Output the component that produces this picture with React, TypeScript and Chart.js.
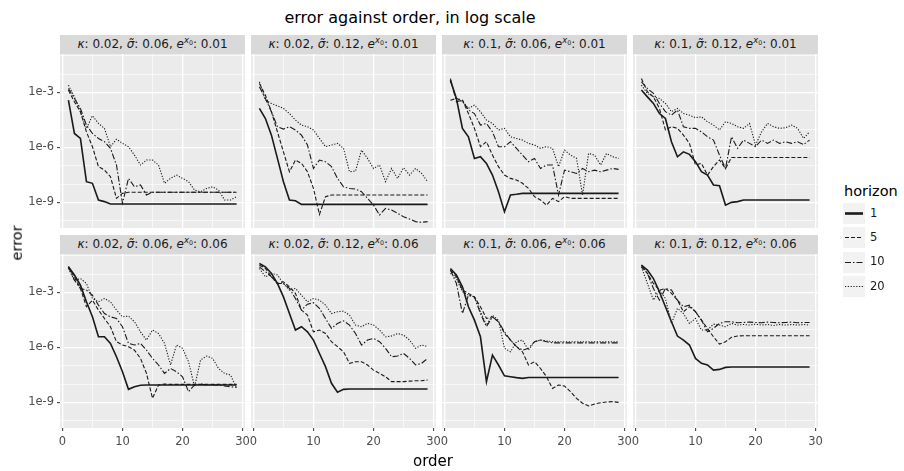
import React, { useEffect, useRef } from "react";
import { Chart, registerables } from "chart.js";

Chart.register(...registerables);

// ---------- data ----------
const ORDERS = [1, 2, 3, 4, 5, 6, 7, 8, 9, 10, 11, 12, 13, 14, 15, 16, 17, 18, 19, 20, 21, 22, 23, 24, 25, 26, 27, 28, 29];
const HORIZONS = ["1", "5", "10", "20"];
const KAPPAS = ["0.02", "0.02", "0.1", "0.1"];
const SIGMAS = ["0.06", "0.12", "0.06", "0.12"];
const EX0S = ["0.01", "0.06"];
const X_TICKS = [0, 10, 20, 30];
const X_MINOR = [5, 15, 25];
const Y_TICK_LABELS = ["1e-3", "1e-6", "1e-9"];
const Y_TICK_EXPONENTS = [-3, -6, -9];
const Y_MINOR_EXPONENTS = [-10, -8, -7, -5, -4, -2, -1];

// log10(error) per panel (row r, column c) and horizon h
const R1C1_H1 = [-3.42, -5.24, -5.51, -7.87, -7.96, -8.87, -8.96, -9.09, -9.09, -9.09,
  -9.09, -9.09, -9.09, -9.09, -9.09, -9.09, -9.09, -9.09, -9.09, -9.09,
  -9.09, -9.09, -9.09, -9.09, -9.09, -9.09, -9.09, -9.09, -9.09];
const R1C1_H5 = [-2.87, -3.51, -4.05, -5.15, -5.96, -7.05, -7.24, -7.60, -8.78, -8.51,
  -8.45, -8.45, -8.45, -8.45, -8.45, -8.45, -8.45, -8.45, -8.45, -8.45,
  -8.45, -8.45, -8.45, -8.45, -8.45, -8.45, -8.45, -8.45, -8.45];
const R1C1_H10 = [-2.78, -3.33, -3.87, -4.78, -5.24, -5.51, -5.69, -6.05, -6.96, -9.05,
  -7.69, -8.15, -8.05, -8.60, -8.45, -8.45, -8.45, -8.45, -8.45, -8.45,
  -8.45, -8.45, -8.45, -8.45, -8.45, -8.45, -8.45, -8.45, -8.45];
const R1C1_H20 = [-2.60, -3.24, -4.05, -4.96, -4.27, -4.69, -4.96, -5.96, -5.55, -5.78,
  -5.96, -6.42, -6.96, -6.69, -6.69, -6.96, -7.96, -7.69, -7.51, -7.69,
  -7.87, -8.33, -8.42, -8.24, -8.15, -8.33, -8.87, -8.87, -8.69];

const R1C2_H1 = [-3.87, -4.42, -5.33, -6.60, -7.87, -8.87, -8.91, -9.11, -9.11, -9.11,
  -9.11, -9.11, -9.11, -9.11, -9.11, -9.11, -9.11, -9.11, -9.11, -9.11,
  -9.11, -9.11, -9.11, -9.11, -9.11, -9.11, -9.11, -9.11, -9.11];
const R1C2_H5 = [-2.51, -3.15, -4.05, -5.15, -6.24, -7.33, -6.69, -6.87, -7.33, -8.24,
  -9.66, -8.69, -8.60, -8.60, -8.60, -8.60, -8.60, -8.60, -8.60, -8.60,
  -8.60, -8.60, -8.60, -8.60, -8.60, -8.60, -8.60, -8.60, -8.60];
const R1C2_H10 = [-2.69, -3.33, -4.05, -4.87, -5.00, -4.87, -5.05, -5.33, -5.87, -7.15,
  -6.69, -6.78, -7.05, -7.69, -8.15, -8.24, -8.27, -8.42, -8.78, -9.15,
  -9.69, -9.33, -9.42, -9.60, -9.78, -9.91, -10.05, -10.09, -10.05];
const R1C2_H20 = [-2.42, -3.42, -3.60, -3.73, -3.87, -4.15, -4.51, -4.78, -4.87, -5.05,
  -5.51, -5.96, -5.87, -5.78, -6.05, -7.33, -7.29, -6.15, -6.60, -7.15,
  -6.96, -7.87, -7.15, -7.69, -7.11, -7.51, -7.15, -7.42, -7.87];

const R1C3_H1 = [-2.33, -3.33, -4.96, -5.42, -6.60, -6.51, -6.87, -7.51, -8.42, -9.51,
  -8.60, -8.56, -8.51, -8.51, -8.51, -8.51, -8.51, -8.51, -8.51, -8.51,
  -8.51, -8.51, -8.51, -8.51, -8.51, -8.51, -8.51, -8.51, -8.51];
const R1C3_H5 = [-3.42, -3.33, -3.42, -4.15, -4.96, -5.96, -5.69, -6.42, -7.05, -7.51,
  -7.69, -7.78, -7.96, -8.24, -8.69, -8.87, -9.15, -8.78, -8.96, -8.69,
  -8.78, -8.78, -8.78, -8.78, -8.78, -8.78, -8.78, -8.78, -8.78];
const R1C3_H10 = [-2.24, -3.51, -3.42, -3.96, -4.15, -4.78, -4.69, -5.15, -5.96, -5.96,
  -5.69, -6.05, -6.42, -6.78, -6.60, -7.15, -6.96, -6.96, -8.60, -7.24,
  -7.33, -7.42, -7.15, -7.33, -7.24, -7.33, -7.24, -7.15, -7.20];
const R1C3_H20 = [-2.42, -3.33, -3.51, -3.87, -3.69, -4.05, -4.51, -4.69, -5.05, -4.96,
  -5.42, -5.51, -5.60, -5.78, -5.87, -6.05, -5.96, -6.05, -7.05, -6.15,
  -6.42, -6.60, -8.60, -6.33, -6.42, -6.96, -6.33, -6.51, -6.60];

const R1C4_H1 = [-2.87, -3.24, -3.60, -4.15, -4.42, -5.69, -6.51, -6.24, -6.38, -6.78,
  -7.33, -7.51, -8.05, -8.09, -9.15, -9.00, -8.96, -8.87, -8.87, -8.87,
  -8.87, -8.87, -8.87, -8.87, -8.87, -8.87, -8.87, -8.87, -8.87];
const R1C4_H5 = [-2.24, -2.96, -3.24, -3.87, -5.05, -4.87, -4.96, -5.33, -5.78, -6.96,
  -6.87, -7.51, -7.05, -6.69, -7.15, -6.55, -6.55, -6.55, -6.55, -6.55,
  -6.55, -6.55, -6.55, -6.55, -6.55, -6.55, -6.55, -6.55, -6.55];
const R1C4_H10 = [-2.42, -2.78, -3.05, -3.60, -4.05, -4.24, -3.96, -4.87, -4.96, -4.96,
  -5.15, -5.42, -5.60, -6.42, -7.15, -5.42, -6.05, -5.60, -5.78, -5.96,
  -5.60, -5.78, -5.60, -5.78, -5.69, -5.78, -5.69, -5.84, -5.60];
const R1C4_H20 = [-2.60, -3.05, -3.24, -3.33, -3.60, -4.05, -3.87, -4.15, -4.24, -4.38,
  -4.33, -4.60, -4.78, -5.05, -4.60, -4.69, -4.87, -4.96, -4.69, -5.87,
  -5.15, -4.69, -4.87, -4.96, -4.93, -4.78, -4.96, -5.51, -5.15];

const R2C1_H1 = [-1.60, -2.05, -2.60, -3.51, -4.33, -5.42, -5.42, -5.78, -6.51, -7.33,
  -8.29, -8.15, -8.07, -8.05, -8.05, -8.05, -8.05, -8.05, -8.05, -8.05,
  -8.05, -8.05, -8.05, -8.05, -8.05, -8.05, -8.05, -8.05, -8.05];
const R2C1_H5 = [-1.60, -2.15, -2.78, -3.78, -3.42, -3.96, -4.42, -4.87, -5.69, -5.87,
  -5.96, -6.15, -6.60, -7.42, -8.78, -8.05, -8.00, -8.02, -8.02, -8.02,
  -8.02, -8.02, -8.02, -8.02, -8.02, -8.02, -8.02, -8.02, -8.02];
const R2C1_H10 = [-1.60, -2.33, -2.78, -2.87, -3.15, -3.69, -4.15, -4.33, -4.42, -4.87,
  -5.78, -5.87, -5.78, -6.15, -6.60, -6.96, -7.42, -7.15, -7.33, -7.60,
  -8.42, -8.05, -8.00, -8.05, -8.05, -8.05, -8.11, -8.15, -8.18];
const R2C1_H20 = [-1.69, -2.33, -2.24, -2.51, -3.33, -3.51, -3.33, -3.51, -3.96, -4.33,
  -4.29, -4.60, -5.15, -5.60, -5.05, -5.24, -5.78, -6.96, -5.87, -6.05,
  -6.78, -8.15, -6.69, -6.47, -6.60, -7.15, -7.42, -7.51, -8.24];

const R2C2_H1 = [-1.42, -1.60, -1.96, -2.51, -3.24, -4.15, -5.05, -4.87, -5.15, -5.60,
  -6.33, -7.05, -7.96, -8.45, -8.29, -8.27, -8.27, -8.27, -8.27, -8.27,
  -8.27, -8.27, -8.27, -8.27, -8.27, -8.27, -8.27, -8.27, -8.27];
const R2C2_H5 = [-1.51, -1.69, -2.15, -2.51, -2.42, -2.69, -3.05, -3.96, -4.24, -5.15,
  -5.05, -5.24, -5.69, -5.96, -6.24, -6.87, -6.78, -6.78, -6.96, -7.24,
  -7.42, -7.60, -7.87, -7.87, -7.87, -7.84, -7.82, -7.82, -7.78];
const R2C2_H10 = [-1.60, -1.87, -2.15, -2.51, -2.51, -2.78, -3.33, -3.96, -3.64, -3.56,
  -3.87, -4.42, -4.96, -4.69, -4.55, -4.78, -5.24, -5.87, -5.60, -5.51,
  -5.69, -6.05, -6.51, -6.47, -6.33, -6.60, -6.96, -6.87, -6.60];
const R2C2_H20 = [-1.69, -2.15, -1.96, -2.05, -2.51, -2.87, -2.78, -3.15, -3.51, -3.33,
  -3.42, -3.69, -4.15, -4.05, -4.02, -4.24, -4.78, -4.87, -4.69, -4.78,
  -5.05, -5.42, -5.38, -5.24, -5.33, -5.60, -6.05, -5.87, -5.96];

const R2C3_H1 = [-1.69, -2.05, -2.69, -3.78, -4.51, -5.42, -7.87, -6.42, -6.96, -7.55,
  -7.60, -7.65, -7.69, -7.64, -7.64, -7.64, -7.64, -7.64, -7.64, -7.64,
  -7.64, -7.64, -7.64, -7.64, -7.64, -7.64, -7.64, -7.64, -7.64];
const R2C3_H5 = [-1.78, -2.15, -2.87, -3.05, -3.24, -3.78, -4.42, -4.33, -4.60, -5.24,
  -5.60, -5.96, -6.24, -6.96, -6.78, -7.15, -7.60, -8.24, -8.05, -8.11,
  -8.42, -8.78, -9.05, -9.20, -9.09, -9.02, -8.98, -8.96, -9.00];
const R2C3_H10 = [-1.78, -2.51, -4.15, -3.15, -3.24, -4.15, -4.87, -4.33, -4.60, -5.15,
  -5.60, -5.96, -6.15, -6.05, -5.69, -5.60, -5.69, -5.75, -5.75, -5.75,
  -5.75, -5.75, -5.75, -5.75, -5.75, -5.75, -5.75, -5.75, -5.75];
const R2C3_H20 = [-1.96, -2.24, -2.96, -3.15, -3.24, -4.05, -4.78, -4.24, -4.51, -6.05,
  -6.24, -5.69, -5.60, -6.15, -5.69, -5.60, -5.65, -5.69, -5.69, -5.69,
  -5.69, -5.69, -5.69, -5.69, -5.69, -5.69, -5.69, -5.69, -5.69];

const R2C4_H1 = [-1.51, -1.78, -2.24, -2.96, -3.78, -4.60, -5.38, -5.60, -5.87, -6.60,
  -6.87, -6.96, -7.24, -7.20, -7.09, -7.07, -7.07, -7.07, -7.07, -7.07,
  -7.07, -7.07, -7.07, -7.07, -7.07, -7.07, -7.07, -7.07, -7.07];
const R2C4_H5 = [-1.60, -1.96, -2.51, -2.87, -2.78, -3.05, -3.42, -4.05, -3.78, -4.05,
  -4.51, -4.96, -5.42, -5.82, -5.69, -5.45, -5.38, -5.36, -5.36, -5.36,
  -5.36, -5.36, -5.36, -5.36, -5.36, -5.36, -5.36, -5.36, -5.36];
const R2C4_H10 = [-1.51, -1.96, -2.78, -3.42, -2.78, -2.87, -3.42, -3.78, -3.69, -4.05,
  -4.51, -5.15, -4.96, -4.69, -4.60, -4.60, -4.65, -4.64, -4.62, -4.64,
  -4.65, -4.62, -4.64, -4.65, -4.64, -4.62, -4.65, -4.64, -4.64];
const R2C4_H20 = [-1.60, -2.51, -3.42, -2.87, -3.33, -4.69, -3.87, -4.15, -4.69, -4.42,
  -5.05, -5.05, -4.73, -4.78, -4.87, -4.69, -4.78, -4.75, -4.78, -4.73,
  -4.78, -4.75, -4.80, -4.75, -4.78, -4.75, -4.78, -4.75, -4.78];

const PANEL_SERIES = [
  [
    [R1C1_H1, R1C1_H5, R1C1_H10, R1C1_H20],
    [R1C2_H1, R1C2_H5, R1C2_H10, R1C2_H20],
    [R1C3_H1, R1C3_H5, R1C3_H10, R1C3_H20],
    [R1C4_H1, R1C4_H5, R1C4_H10, R1C4_H20],
  ],
  [
    [R2C1_H1, R2C1_H5, R2C1_H10, R2C1_H20],
    [R2C2_H1, R2C2_H5, R2C2_H10, R2C2_H20],
    [R2C3_H1, R2C3_H5, R2C3_H10, R2C3_H20],
    [R2C4_H1, R2C4_H5, R2C4_H10, R2C4_H20],
  ],
];

// ---------- layout & style ----------
const FONT = "'DejaVu Sans', 'Liberation Sans', sans-serif";
const COL_LEFT = [60, 251, 442, 633];
const ROW_TOP = [54, 254];
const PANEL_W = 185;
const PANEL_H = 174;
const STRIP_H = 19;
const Y_AXIS_W = 60;
const X_AXIS_H = 24;
const EXT_L = 8;
const EXT_R = 10;
const Y_MIN = Math.pow(10, -10.4);
const Y_MAX = Math.pow(10, -0.9);
const X_MIN = -0.4;
const X_MAX = 30.4;
const LINE_COLOR = "#1a1a1a";
const DASHES = [[], [4, 2], [6, 2, 1.5, 2], [1.2, 1.6]];
const WIDTHS = [1.6, 1.1, 1.1, 1.1];
const TICK_FONT = 11.5;

const bgPlugin = {
  id: "panelBg",
  beforeDraw(chart: any) {
    const { ctx, chartArea } = chart;
    if (!chartArea) return;
    ctx.save();
    ctx.fillStyle = "#ebebeb";
    ctx.fillRect(chartArea.left, chartArea.top, chartArea.right - chartArea.left, chartArea.bottom - chartArea.top);
    ctx.restore();
  },
};

function expOf(v: number) {
  return Math.round(Math.log10(v));
}

function Panel({ row, col }: { row: number; col: number }) {
  const ref = useRef<HTMLCanvasElement | null>(null);
  const showY = col === 0;
  const showX = row === 1;
  const extL = showY ? Y_AXIS_W : EXT_L;
  const w = PANEL_W + extL + EXT_R;
  const h = PANEL_H + (showX ? X_AXIS_H : 0);
  useEffect(() => {
    const series = PANEL_SERIES[row][col];
    const chart = new Chart(ref.current as HTMLCanvasElement, {
      type: "line",
      data: {
        datasets: series.map((s, i) => ({
          label: HORIZONS[i],
          data: ORDERS.map((x, j) => ({ x, y: Math.pow(10, s[j]) })),
          borderColor: LINE_COLOR,
          borderWidth: WIDTHS[i],
          borderDash: DASHES[i],
          pointRadius: 0,
          fill: false,
          tension: 0,
        })),
      },
      options: {
        animation: false,
        responsive: false,
        maintainAspectRatio: false,
        events: [],
        layout: {
          padding: { left: showY ? 0 : EXT_L, right: EXT_R, top: 0, bottom: 0 },
          autoPadding: false,
        } as any,
        plugins: { legend: { display: false }, tooltip: { enabled: false }, title: { display: false } },
        scales: {
          x: {
            type: "linear",
            min: X_MIN,
            max: X_MAX,
            bounds: "data",
            afterBuildTicks: (s: any) => {
              s.ticks = [...X_TICKS, ...X_MINOR].sort((a, b) => a - b).map((v) => ({ value: v }));
            },
            afterFit: (s: any) => {
              s.height = showX ? X_AXIS_H : 0;
              s.paddingLeft = 0;
              s.paddingRight = 0;
              s.paddingTop = 0;
              s.paddingBottom = 0;
            },
            ticks: {
              display: showX,
              autoSkip: false,
              maxRotation: 0,
              padding: 4,
              color: "#4d4d4d",
              font: { family: FONT, size: TICK_FONT },
              callback: (v: any) => (X_TICKS.includes(Number(v)) ? String(v) : ""),
            },
            grid: {
              color: "#ffffff",
              lineWidth: (ctx: any) => (ctx.tick && X_TICKS.includes(ctx.tick.value) ? 1.3 : 0.6),
              drawTicks: showX,
              tickLength: 3,
              tickWidth: 1,
              tickColor: (ctx: any) => (ctx.tick && X_TICKS.includes(ctx.tick.value) ? "#333333" : "rgba(0,0,0,0)"),
            },
            border: { display: false },
          },
          y: {
            type: "logarithmic",
            min: Y_MIN,
            max: Y_MAX,
            bounds: "data",
            afterBuildTicks: (s: any) => {
              s.ticks = [...Y_TICK_EXPONENTS, ...Y_MINOR_EXPONENTS]
                .sort((a, b) => a - b)
                .map((e) => ({ value: Math.pow(10, e) }));
            },
            afterFit: (s: any) => {
              s.width = showY ? Y_AXIS_W : 0;
              s.paddingLeft = 0;
              s.paddingRight = 0;
              s.paddingTop = 0;
              s.paddingBottom = 0;
            },
            ticks: {
              display: showY,
              autoSkip: false,
              padding: 3,
              color: "#4d4d4d",
              font: { family: FONT, size: TICK_FONT },
              callback: (v: any) => {
                const k = Y_TICK_EXPONENTS.indexOf(expOf(Number(v)));
                return k >= 0 ? Y_TICK_LABELS[k] : "";
              },
            },
            grid: {
              color: "#ffffff",
              lineWidth: (ctx: any) => (ctx.tick && Y_TICK_EXPONENTS.includes(expOf(ctx.tick.value)) ? 1.3 : 0.6),
              drawTicks: showY,
              tickLength: 3,
              tickWidth: 1,
              tickColor: (ctx: any) =>
                ctx.tick && Y_TICK_EXPONENTS.includes(expOf(ctx.tick.value)) ? "#333333" : "rgba(0,0,0,0)",
            },
            border: { display: false },
          },
        },
      } as any,
      plugins: [bgPlugin],
    });
    return () => chart.destroy();
  }, [row, col]);
  return (
    <canvas
      ref={ref}
      width={w}
      height={h}
      style={{
        position: "absolute",
        left: COL_LEFT[col] - extL,
        top: ROW_TOP[row],
        width: w,
        height: h,
      }}
    />
  );
}

function Strip({ row, col }: { row: number; col: number }) {
  return (
    <div
      style={{
        position: "absolute",
        left: COL_LEFT[col],
        top: ROW_TOP[row] - STRIP_H,
        width: PANEL_W,
        height: STRIP_H,
        background: "#d9d9d9",
        color: "#1a1a1a",
        fontFamily: FONT,
        fontSize: 12,
        lineHeight: `${STRIP_H}px`,
        textAlign: "center",
        whiteSpace: "nowrap",
      }}
    >
      <i>κ</i>: {KAPPAS[col]}, <i>σ̃</i>: {SIGMAS[col]}, <i>e</i>
      <sup style={{ fontSize: "0.7em", verticalAlign: "0.55em", lineHeight: 0 }}>
        <i>x</i>
        <sub style={{ fontSize: "0.75em", verticalAlign: "-0.35em", lineHeight: 0 }}>0</sub>
      </sup>
      : {EX0S[row]}
    </div>
  );
}

function Label({
  x,
  y,
  size,
  text,
  rotate,
  anchor,
}: {
  x: number;
  y: number;
  size: number;
  text: string;
  rotate?: boolean;
  anchor?: "left" | "center";
}) {
  const tx = anchor === "left" ? "0" : "-50%";
  return (
    <div
      style={{
        position: "absolute",
        left: x,
        top: y,
        fontFamily: FONT,
        fontSize: size,
        lineHeight: 1,
        color: "#000",
        whiteSpace: "nowrap",
        transform: `translate(${tx}, -50%)${rotate ? " rotate(-90deg)" : ""}`,
      }}
    >
      {text}
    </div>
  );
}

const KEY_LEFT = 843;
const KEY_TOP = 203;
const KEY_PITCH = 24.4;
const KEY_W = 22;
const KEY_H = 21;

function Legend() {
  return (
    <>
      <Label x={844} y={191} size={14.5} text="horizon" anchor="left" />
      {HORIZONS.map((hz, i) => (
        <React.Fragment key={hz}>
          <svg
            width={KEY_W}
            height={KEY_H}
            style={{ position: "absolute", left: KEY_LEFT, top: KEY_TOP + i * KEY_PITCH, background: "#f2f2f2" }}
          >
            <line
              x1={2}
              x2={KEY_W - 2}
              y1={KEY_H / 2}
              y2={KEY_H / 2}
              stroke={LINE_COLOR}
              strokeWidth={i === 0 ? 2.6 : 1.2}
              strokeDasharray={DASHES[i].length ? DASHES[i].join(",") : undefined}
            />
          </svg>
          <div
            style={{
              position: "absolute",
              left: KEY_LEFT + KEY_W + 5,
              top: KEY_TOP + i * KEY_PITCH + KEY_H / 2,
              transform: "translateY(-50%)",
              fontFamily: FONT,
              fontSize: 11.5,
              lineHeight: 1,
              color: "#1a1a1a",
            }}
          >
            {hz}
          </div>
        </React.Fragment>
      ))}
    </>
  );
}

export default function App() {
  return (
    <div
      style={{
        position: "absolute",
        left: 0,
        top: 0,
        width: 904,
        height: 471,
        background: "#ffffff",
        overflow: "hidden",
      }}
    >
      <Label x={410} y={18} size={16} text="error against order, in log scale" />
      {[0, 1].map((r) =>
        [0, 1, 2, 3].map((c) => (
          <React.Fragment key={`${r}-${c}`}>
            <Strip row={r} col={c} />
            <Panel row={r} col={c} />
          </React.Fragment>
        ))
      )}
      <Label x={17} y={243} size={14.5} text="error" rotate />
      <Label x={433} y={461} size={15} text="order" />
      <Legend />
    </div>
  );
}
